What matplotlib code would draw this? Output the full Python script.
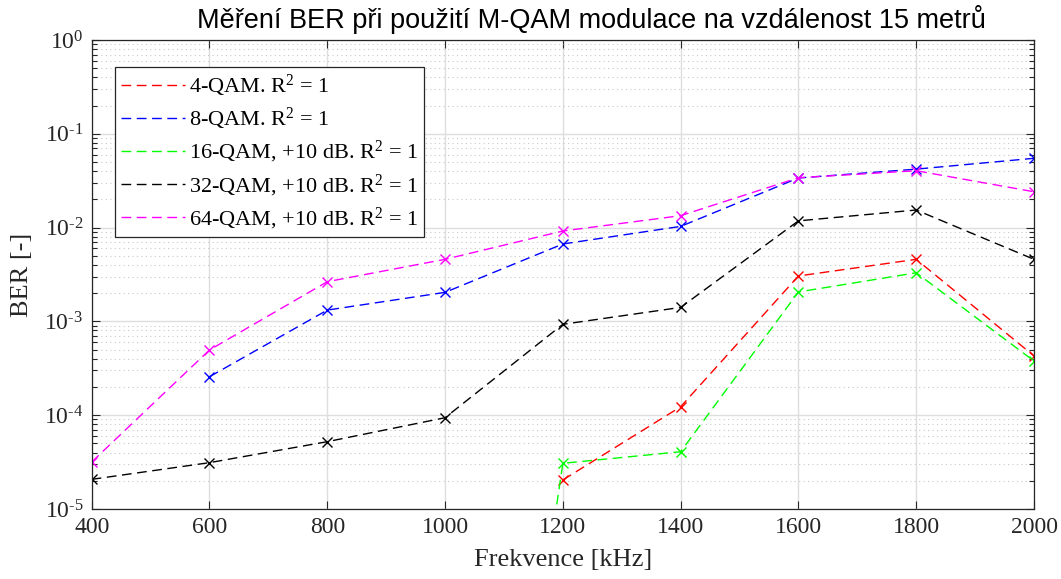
import numpy as np
import matplotlib
matplotlib.use("Agg")
import matplotlib.pyplot as plt
from matplotlib.ticker import LogLocator, NullFormatter, FuncFormatter

# data
freq = [400, 600, 800, 1000, 1200, 1400, 1600, 1800, 2000]
nan = np.nan
ber_4qam = [nan, nan, nan, nan, 2.04e-5, 1.23e-4, 3.05e-3, 4.59e-3, 4.28e-4]
ber_8qam = [nan, 2.57e-4, 1.32e-3, 2.04e-3, 6.69e-3, 1.03e-2, 3.38e-2, 4.2e-2, 5.48e-2]
ber_16qam = [nan, nan, nan, 1e-13, 3.07e-5, 4.08e-5, 2.06e-3, 3.3e-3, 3.78e-4]
ber_32qam = [2.07e-5, 3.12e-5, 5.22e-5, 9.4e-5, 9.31e-4, 1.41e-3, 1.18e-2, 1.54e-2, 4.59e-3]
ber_64qam = [3.17e-5, 4.96e-4, 2.65e-3, 4.59e-3, 9.2e-3, 1.34e-2, 3.4e-2, 4.04e-2, 2.41e-2]

series = [
    (ber_4qam, "r", "4-QAM. R$^2$ = 1"),
    (ber_8qam, "b", "8-QAM. R$^2$ = 1"),
    (ber_16qam, "#00ff00", "16-QAM, +10 dB. R$^2$ = 1"),
    (ber_32qam, "k", "32-QAM, +10 dB. R$^2$ = 1"),
    (ber_64qam, "#ff00ff", "64-QAM, +10 dB. R$^2$ = 1"),
]

plt.rcParams["mathtext.fontset"] = "custom"
plt.rcParams["mathtext.rm"] = "Liberation Serif"
plt.rcParams["mathtext.it"] = "Liberation Serif:italic"

serif = "Liberation Serif"
tc = "#262626"  # matlab axis colour

fig = plt.figure(figsize=(10.61, 5.79), dpi=100)
ax = fig.add_axes([91.7 / 1061, (579 - 509) / 579, (1034 - 91.7) / 1061, (509 - 40) / 579])

for vals, c, lab in series:
    ax.plot(freq, vals, color=c, lw=1.0, dashes=(7, 4), marker="x", ms=7.5, mew=1.0, label=lab)

ax.set_yscale("log")
ax.set_xlim(400, 2000)
ax.set_ylim(1e-5, 1)
ax.set_xticks(freq)
ax.yaxis.set_major_locator(LogLocator(base=10, numticks=10))
ax.yaxis.set_minor_locator(LogLocator(base=10, subs=np.arange(2, 10), numticks=20))
ax.yaxis.set_minor_formatter(NullFormatter())


def exp_fmt(v, pos):
    e = int(round(np.log10(v)))
    if e < 0:
        return r"$10^{\text{-}%d}$" % (-e)
    return r"$10^{%d}$" % e


ax.yaxis.set_major_formatter(FuncFormatter(exp_fmt))

ax.grid(True, which="major", color="#dedede", lw=1.0, ls="-")
ax.grid(True, which="minor", axis="y", color="#c8c8c8", lw=0.8, ls=(0, (1, 3)))
ax.set_axisbelow(True)

ax.tick_params(which="both", direction="in", top=True, right=True, colors=tc,
               labelcolor=tc, width=0.8)
ax.tick_params(which="major", length=6, labelsize=17, pad=6)
ax.tick_params(which="minor", length=3.5)
for lbl in ax.get_xticklabels() + ax.get_yticklabels():
    lbl.set_fontfamily(serif)
for sp in ax.spines.values():
    sp.set_color(tc)
    sp.set_linewidth(0.9)

ax.set_xlabel("Frekvence [kHz]", fontsize=19, family=serif, color=tc, labelpad=8)
ax.set_ylabel("BER [-]", fontsize=19, family=serif, color=tc, labelpad=8)
ax.set_title("Měření BER při použití M-QAM modulace na vzdálenost 15 metrů",
             fontsize=19.5, family="Liberation Sans", color="black", pad=8.5, x=0.53)

leg = ax.legend(loc="upper left", bbox_to_anchor=(23.3 / 942.3, 1 - 27 / 469),
                prop={"family": serif, "size": 16},
                frameon=True, fancybox=False, edgecolor=tc, framealpha=1,
                handlelength=2.9, handletextpad=0.2, labelspacing=0.32,
                borderpad=0.25, borderaxespad=0)
leg.get_frame().set_linewidth(0.9)
for h in leg.get_lines():
    h.set_marker("")

fig.savefig("out.png", dpi=100)
